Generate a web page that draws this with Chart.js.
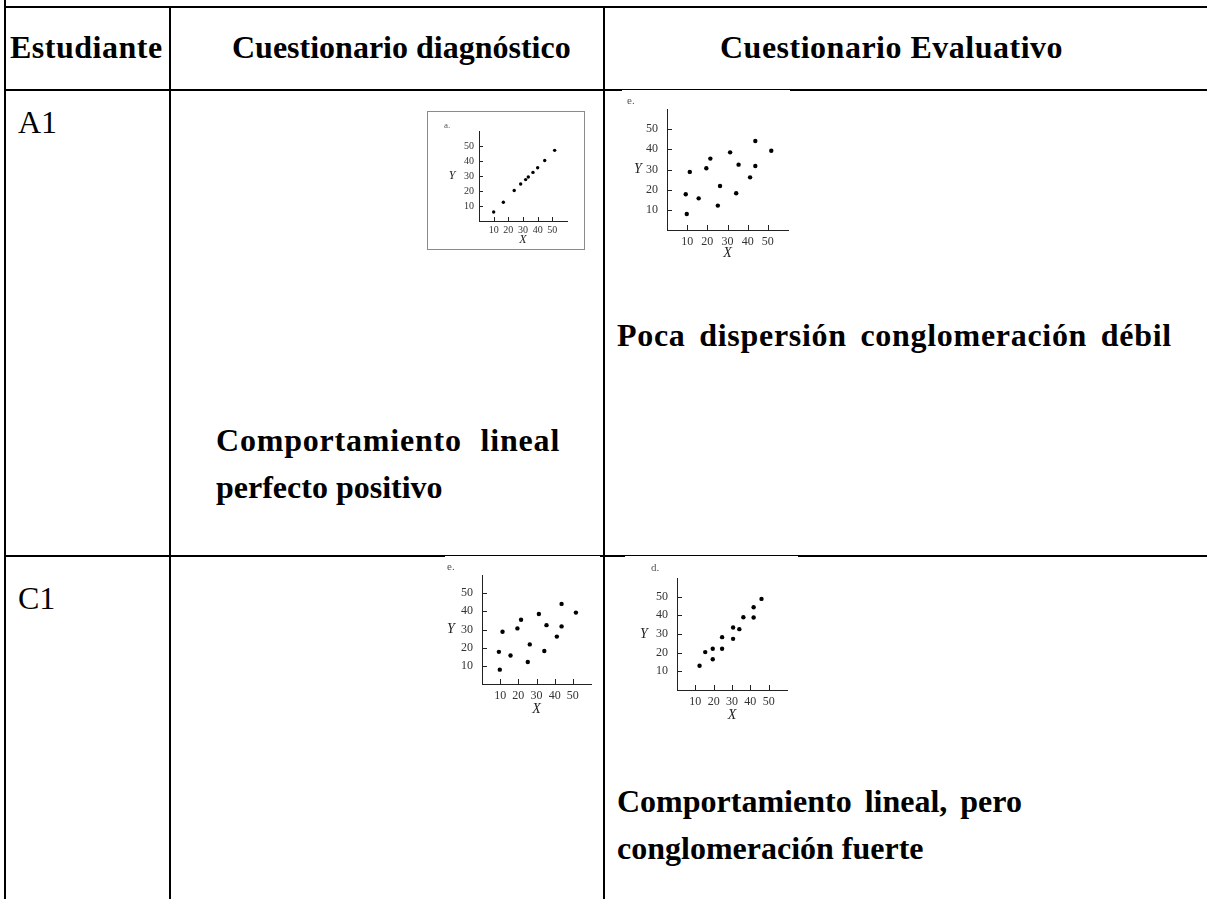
<!DOCTYPE html>
<html>
<head>
<meta charset="utf-8">
<script src="https://cdn.jsdelivr.net/npm/chart.js@4.4.1/dist/chart.umd.min.js"></script>
<style>
  html, body { margin:0; padding:0; background:#fff; }
  body { width:1207px; height:899px; position:relative; overflow:hidden; font-family:'Liberation Serif','Times New Roman',serif; color:#000; }
  .ln { position:absolute; background:#000; }
  .tx { position:absolute; font-size:32px; line-height:32px; white-space:nowrap; }
  .b { font-weight:bold; }
  canvas { position:absolute; display:block; }
  .frame { position:absolute; border:1px solid #8a8a8a; background:#fff; box-sizing:border-box; }
</style>
</head>
<body>
<!-- table rules -->
<div class="ln" style="left:4px;top:6px;width:1203px;height:2px"></div>
<div class="ln" style="left:4px;top:89px;width:1203px;height:2px"></div>
<div class="ln" style="left:4px;top:555px;width:1203px;height:2px"></div>
<div class="ln" style="left:4px;top:0px;width:2px;height:899px"></div>
<div class="ln" style="left:169px;top:6px;width:2px;height:893px"></div>
<div class="ln" style="left:603px;top:6px;width:2px;height:893px"></div>

<!-- texts -->
<div class="tx b" style="left:10px;top:31px;letter-spacing:0.5px">Estudiante</div>
<div class="tx b" style="left:232px;top:31px">Cuestionario diagnóstico</div>
<div class="tx b" style="left:720px;top:31px;letter-spacing:0.5px">Cuestionario Evaluativo</div>
<div class="tx" style="left:18px;top:106px">A1</div>
<div class="tx b" style="left:617px;top:319px;letter-spacing:0.7px;word-spacing:5px">Poca dispersión conglomeración débil</div>
<div class="tx b" style="left:216px;top:424px;letter-spacing:0.8px;word-spacing:10px">Comportamiento lineal</div>
<div class="tx b" style="left:216px;top:471px">perfecto positivo</div>
<div class="tx" style="left:18px;top:582px">C1</div>
<div class="tx b" style="left:617px;top:785px;word-spacing:5px">Comportamiento lineal, pero</div>
<div class="tx b" style="left:617px;top:832px">conglomeración fuerte</div>

<div class="frame" style="left:427px;top:111px;width:158px;height:139px"></div>
<canvas id="cA" width="155" height="136" style="left:428px;top:112px"></canvas>
<canvas id="cE1" width="168" height="175" style="left:622px;top:90px"></canvas>
<canvas id="cE2" width="155" height="165" style="left:445px;top:556px"></canvas>
<canvas id="cD" width="173" height="170" style="left:625px;top:556px"></canvas>

<script>
// ---- data ----
const tickValues = [10, 20, 30, 40, 50];

// panel "a." – perfect positive linear
const plotA_x = [10, 16.6, 24, 28.4, 31.8, 33.6, 36.8, 40, 44.8, 51.6];
const plotA_y = [6, 12.5, 20.3, 24.7, 27.6, 29.3, 32.4, 35.5, 40.3, 47.1];

// panel "e." – weak cluster
const plotE_x = [9.8, 9.3, 11.3, 15.7, 19.5, 21.5, 25.2, 26.3, 31.3, 34.3, 35.5, 41.2, 43.8, 43.8, 51.7];
const plotE_y = [7.9, 17.7, 28.8, 15.7, 30.6, 35.4, 12.1, 21.8, 38.5, 18.2, 32.4, 26.1, 31.7, 44.1, 39.3];

// panel "d." – linear, strong cluster
const plotD_x = [12.3, 15.4, 19.5, 19.5, 24.6, 24.6, 30.6, 30.6, 34, 36.2, 41.8, 41.8, 46.1];
const plotD_y = [13, 20.3, 22.1, 16.5, 28.3, 22.1, 33.5, 27.4, 32.6, 39, 44.3, 38.8, 48.8];

const SERIF = "'Liberation Serif', 'Times New Roman', serif";

const decor = {
  id: 'decor',
  beforeDraw(chart, args, o) {
    const c = chart.ctx;
    c.save();
    c.fillStyle = '#fff';
    c.fillRect(0, 0, chart.width, chart.height);
    c.restore();
  },
  afterDraw(chart, args, o) {
    const c = chart.ctx, a = chart.chartArea;
    const sx = chart.scales.x, sy = chart.scales.y;
    c.save();
    // inward tick marks, placed through the chart's own scales
    c.strokeStyle = '#222';
    c.lineWidth = 1;
    c.beginPath();
    sx.ticks.forEach(t => {
      const px = Math.round(sx.getPixelForValue(t.value)) + 0.5;
      c.moveTo(px, a.bottom); c.lineTo(px, a.bottom - o.tl);
    });
    sy.ticks.forEach(t => {
      const py = Math.round(sy.getPixelForValue(t.value)) + 0.5;
      c.moveTo(a.left, py); c.lineTo(a.left + o.tl, py);
    });
    c.stroke();
    // axis letters and panel tag
    c.fillStyle = '#222';
    c.font = 'italic ' + o.size + 'px ' + SERIF;
    c.textAlign = 'center';
    c.textBaseline = 'middle';
    c.fillText('Y', a.left - o.yOff, (a.top + a.bottom) / 2);
    c.fillText('X', (a.left + a.right) / 2, a.bottom + o.xOff);
    c.font = (o.size - 3) + 'px ' + SERIF;
    c.fillStyle = '#555';
    c.textAlign = 'left';
    c.fillText(o.tag, o.tagX, o.tagY);
    c.restore();
  }
};

function makePlot(id, xs, ys, cfg) {
  const el = document.getElementById(id);
  const W = el.width, H = el.height;
  const area = cfg.area; // desired plot area inside canvas [left, top, right, bottom]
  const yW = cfg.yW, xH = cfg.xH;
  const pts = xs.map((x, i) => ({ x: x, y: ys[i] }));
  const axisCommon = (size, pad) => ({
    type: 'linear', min: 0, max: 60,
    afterBuildTicks: ax => { ax.ticks = tickValues.map(v => ({ value: v })); },
    grid: { display: false, drawOnChartArea: false, drawTicks: false, tickLength: 0 },
    border: { display: true, color: '#222', width: 1 },
    ticks: { padding: pad, autoSkip: false, maxRotation: 0, color: '#333', font: { family: SERIF, size: size } }
  });
  const xs_ = axisCommon(cfg.font, cfg.xPad);
  xs_.afterFit = s => { s.height = xH; };
  const ys_ = axisCommon(cfg.font, cfg.yPad);
  ys_.afterFit = s => { s.width = yW; };
  return new Chart(el, {
    type: 'scatter',
    data: { datasets: [{ data: pts, backgroundColor: '#000', borderColor: '#000', pointRadius: cfg.r, pointBorderWidth: 0 }] },
    options: {
      responsive: false, animation: false, devicePixelRatio: 1,
      layout: {
        autoPadding: false,
        padding: { left: area[0] - yW, top: area[1], right: W - area[2], bottom: H - area[3] - xH }
      },
      plugins: {
        legend: { display: false }, tooltip: { enabled: false }, title: { display: false },
        decor: { size: cfg.letter, yOff: cfg.yOff, xOff: cfg.xOff, tag: cfg.tag, tagX: cfg.tagX, tagY: cfg.tagY, tl: cfg.tl }
      },
      scales: { x: xs_, y: ys_ }
    },
    plugins: [decor]
  });
}

// areas relative to each canvas
makePlot('cA', plotA_x, plotA_y, { area: [51, 19, 139, 109], yW: 30, xH: 24, font: 10, xPad: 3, yPad: 5, tl: 4, r: 1.7, letter: 12, yOff: 27, xOff: 19, tag: 'a.', tagX: 16, tagY: 14 });
makePlot('cE1', plotE_x, plotE_y, { area: [45, 19, 166, 140], yW: 30, xH: 30, font: 12, xPad: 5, yPad: 9, tl: 5, r: 2.2, letter: 14, yOff: 29, xOff: 23, tag: 'e.', tagX: 5, tagY: 11 });
makePlot('cE2', plotE_x, plotE_y, { area: [37, 19, 146, 128], yW: 25, xH: 30, font: 12, xPad: 5, yPad: 9, tl: 5, r: 2.2, letter: 14, yOff: 31, xOff: 25, tag: 'e.', tagX: 2, tagY: 11 });
makePlot('cD', plotD_x, plotD_y, { area: [52, 22, 162, 134], yW: 30, xH: 30, font: 12, xPad: 5, yPad: 9, tl: 5, r: 2.2, letter: 14, yOff: 33, xOff: 25, tag: 'd.', tagX: 26, tagY: 12 });
</script>
</body>
</html>
